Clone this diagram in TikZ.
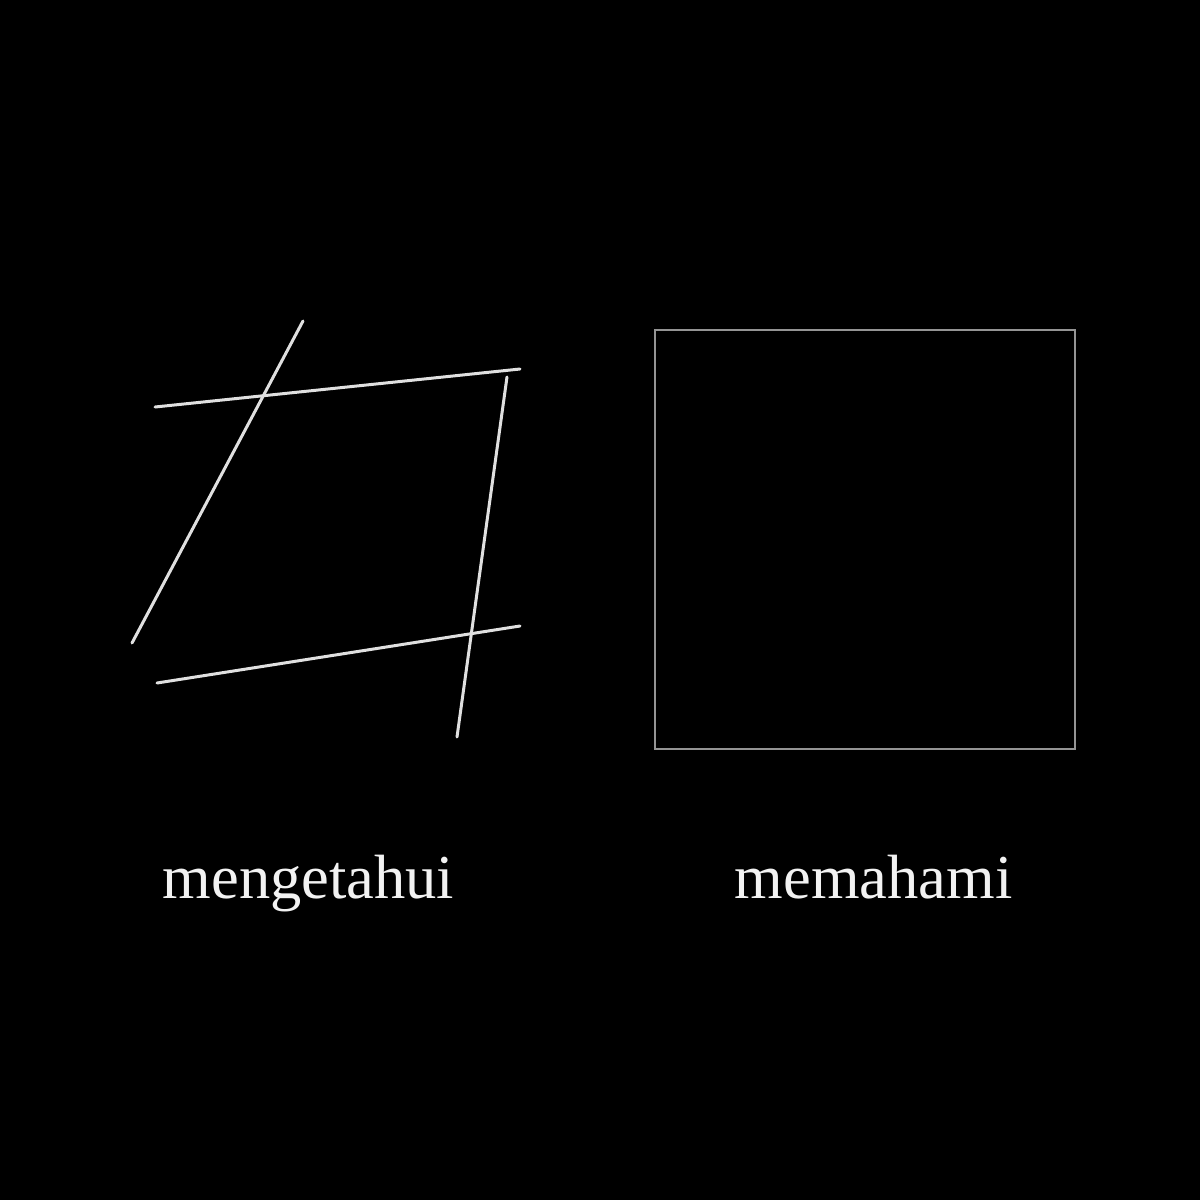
\documentclass[tikz,border=0pt]{standalone}
\usepackage{fontspec}
\setmainfont{Liberation Serif}
\begin{document}
\begin{tikzpicture}[x=0.5pt,y=-0.5pt,
  stroke/.style={draw=white!88!black,line width=1.5pt,line cap=round},
  frame/.style={draw=white!58!black,line width=0.9pt},
  caption/.style={text=white!95!black,font=\fontsize{31.25pt}{36pt}\selectfont,anchor=base,inner sep=0pt}]
\fill[black] (0,0) rectangle (1200,1200);
\useasboundingbox (0,0) rectangle (1200,1200);
% rough sketch lines
\coordinate (a1) at (303,321);
\coordinate (a2) at (132,643);
\coordinate (b1) at (155,407);
\coordinate (b2) at (520,369);
\coordinate (c1) at (507,377);
\coordinate (c2) at (457,737);
\coordinate (d1) at (157,683);
\coordinate (d2) at (520,626);
\draw[stroke] (a1) -- (a2);
\draw[stroke] (b1) -- (b2);
\draw[stroke] (c1) -- (c2);
\draw[stroke] (d1) -- (d2);
% square
\coordinate (s1) at (655,330);
\coordinate (s2) at (1075,749);
\draw[frame] (s1) rectangle (s2);
% captions
\node[caption] (know) at (308.5,898) {mengetahui};
\node[caption] (understand) at (873.5,898) {memahami};
\end{tikzpicture}
\end{document}
